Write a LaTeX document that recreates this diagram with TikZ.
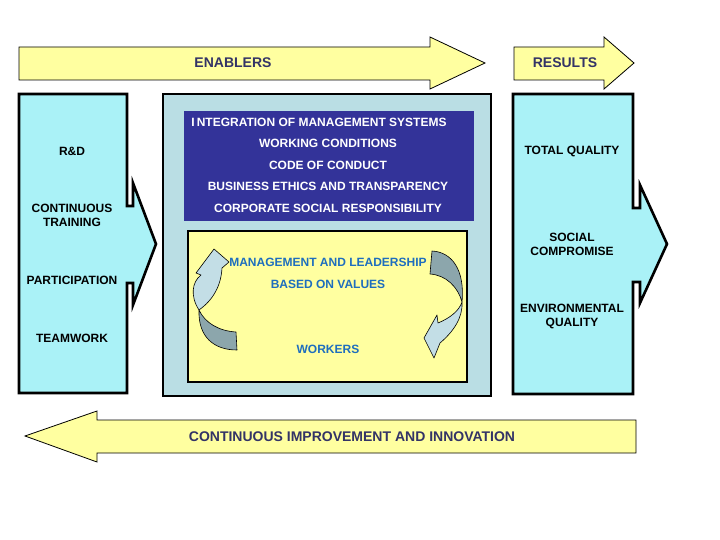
\documentclass[tikz,border=0pt]{standalone}
\usepackage{fontspec}
\setmainfont{Liberation Sans}
\usetikzlibrary{positioning}
\definecolor{boxcyan}{RGB}{170,242,247}
\definecolor{corebg}{RGB}{186,222,228}
\definecolor{navyband}{RGB}{51,51,153}
\definecolor{paleyellow}{RGB}{255,255,160}
\definecolor{labelnavy}{RGB}{51,51,102}
\definecolor{valueblue}{RGB}{30,110,190}
\definecolor{ribbonlight}{RGB}{195,222,230}
\definecolor{ribbondark}{RGB}{140,166,172}
\newcommand{\enablersArrow}{(19,47) -- (430,47) -- (430,37) -- (485,63) -- (430,89) -- (430,80) -- (19,80) -- cycle}
\newcommand{\resultsArrow}{(514,47) -- (604,47) -- (604,37) -- (634,63) -- (604,89) -- (604,80) -- (514,80) -- cycle}
\newcommand{\improveArrow}{(636,420) -- (97,420) -- (97,411) -- (25,436) -- (97,462) -- (97,453) -- (636,453) -- cycle}
\newcommand{\leftPanel}{(19,94) -- (127,94) -- (127,206) -- (133,206) -- (133,183) -- (156,244) -- (133,305) -- (133,283) -- (127,283) -- (127,393) -- (19,393) -- cycle}
\newcommand{\rightPanel}{(513,94) -- (633,94) -- (633,208) -- (640,208) -- (640,185) -- (667,244) -- (640,303) -- (640,282) -- (633,282) -- (633,394) -- (513,394) -- cycle}
\tikzset{
  txt/.style={font=\fontsize{12}{14}\selectfont\bfseries, align=center, inner sep=0pt},
  arrowtxt/.style={font=\fontsize{14}{16}\selectfont\bfseries, text=labelnavy, inner sep=0pt},
  bandtxt/.style={txt, text=white},
  valuetxt/.style={txt, text=valueblue},
  ribbon/.style={draw=black, line width=0.6pt, line join=round}
}

\begin{document}
\begin{tikzpicture}[x=1pt,y=-1pt]
\useasboundingbox (0,0) rectangle (720,540);
% top and bottom block arrows
\filldraw[fill=paleyellow, draw=black, line width=0.8pt] \enablersArrow;
\filldraw[fill=paleyellow, draw=black, line width=0.8pt] \resultsArrow;
\filldraw[fill=paleyellow, draw=black, line width=0.8pt] \improveArrow;
\node[arrowtxt] (enablers) at (233,63) {ENABLERS};
\node[arrowtxt] (results) at (565,63) {RESULTS};
\node[arrowtxt] (improve) at (352,437) {CONTINUOUS IMPROVEMENT AND INNOVATION};
% side panels
\filldraw[fill=boxcyan, draw=black, line width=2.6pt, line join=miter] \leftPanel;
\filldraw[fill=boxcyan, draw=black, line width=2.6pt, line join=miter] \rightPanel;
\node[txt] (rd) at (72,151) {R\&D};
\node[txt] (training) at (72,215) {CONTINUOUS\\TRAINING};
\node[txt] (participation) at (72,280) {PARTICIPATION};
\node[txt] (teamwork) at (72,338) {TEAMWORK};
\node[txt] (quality) at (572,151) {TOTAL QUALITY};
\node[txt] (social) at (572,244) {SOCIAL\\COMPROMISE};
\node[txt] (environment) at (572,316) {ENVIRONMENTAL\\QUALITY};
% central block
\filldraw[fill=corebg, draw=black, line width=2.8pt] (163,94) rectangle (491,396);
\fill[navyband] (184,111) rectangle (474,221);
\node[bandtxt] (integration) at (319,122) {I\,NTEGRATION OF MANAGEMENT SYSTEMS};
\node[bandtxt] (conditions) at (328,143) {WORKING CONDITIONS};
\node[bandtxt] (conduct) at (328,165) {CODE OF CONDUCT};
\node[bandtxt] (ethics) at (328,186) {BUSINESS ETHICS AND TRANSPARENCY};
\node[bandtxt] (csr) at (328,208) {CORPORATE SOCIAL RESPONSIBILITY};
\filldraw[fill=paleyellow, draw=black, line width=2.8pt] (188,231) rectangle (467,382);
\node[valuetxt] (leadership) at (328,262) {MANAGEMENT AND LEADERSHIP};
\node[valuetxt] (values) at (328,284) {BASED ON VALUES};
\node[valuetxt] (workers) at (328,349) {WORKERS};
% twisted ribbon arrows
\filldraw[ribbon, fill=ribbondark] (199,310) .. controls (198,337) and (214,350) .. (237,350) -- (236,332) .. controls (219,331) and (205,323) .. (199,310) -- cycle;
\filldraw[ribbon, fill=ribbonlight] (199,310) .. controls (190,296) and (192,282) .. (201,275) -- (196,273) -- (214,249) -- (229,262) -- (222,268) .. controls (221,286) and (213,300) .. (199,310) -- cycle;
\filldraw[ribbon, fill=ribbondark] (430,274) -- (432,251) .. controls (452,252) and (465,270) .. (462,302) .. controls (458,287) and (446,275) .. (430,274) -- cycle;
\filldraw[ribbon, fill=ribbonlight] (462,302) .. controls (463,318) and (453,332) .. (440,343) -- (434,358) -- (424,338) -- (437,315) -- (438,323) .. controls (450,318) and (459,311) .. (462,302) -- cycle;
\end{tikzpicture}
\end{document}
